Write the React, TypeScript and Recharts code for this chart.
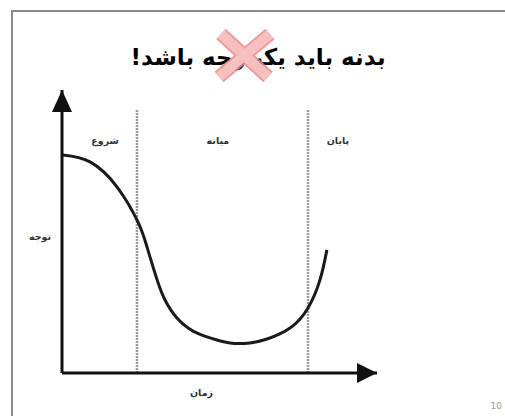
import { Line, LineChart, ReferenceDot, ReferenceLine, XAxis, YAxis } from "recharts";

const TITLE = "بدنه باید یکپارچه باشد!";
const X_LABEL = "زمان";
const Y_LABEL = "توجه";
const PAGE_NO = "10";

// attention curve (x and y both on a 0-100 scale)
const TIME = [0.3, 8.9, 17.5, 24.1, 27, 30.2, 32.7, 36.5, 41.6, 47, 53.3, 59.7, 65.1, 72.4, 78.1, 81.9, 84.1];
const ATTENTION = [77, 74.6, 65.7, 53.4, 44.5, 32.9, 25.8, 19.4, 14.8, 12.4, 10.6, 10.6, 12, 15.9, 23, 32.9, 43.5];

const PHASES = ["شروع", "میانه", "پایان"];
const PHASE_CENTERS = [13.7, 49.5, 87.6];
const PHASE_LABEL_Y = 82.3;
const BOUNDARIES = [23.8, 78.1];
const BOUNDARY_TOP = 93;

const FONT = "'DejaVu Sans', sans-serif";
const INK = "#111";

const data = TIME.map((t, i) => ({ t, a: ATTENTION[i] }));

function UpArrow(p: any) {
  const { cx, cy } = p;
  return <path d={`M${cx},${cy} L${cx - 10},${cy + 22} L${cx + 10},${cy + 22} Z`} fill={INK} />;
}

function RightArrow(p: any) {
  const { cx, cy } = p;
  return <path d={`M${cx},${cy} L${cx - 20},${cy - 10} L${cx - 20},${cy + 10} Z`} fill={INK} />;
}

function PhaseText(name: string) {
  return (p: any) => (
    <text x={p.cx} y={p.cy} textAnchor="middle" dominantBaseline="central" fontSize={9.5} fontWeight="bold" fill="#333" fontFamily={FONT}>
      {name}
    </text>
  );
}

export default function App() {
  return (
    <div style={{ position: "absolute", left: 0, top: 0, width: 505, height: 416, background: "#fff", overflow: "hidden" }}>
      <div
        style={{
          position: "absolute",
          left: 11,
          top: 10,
          width: 500,
          height: 420,
          borderTop: "2px solid #8a8a8a",
          borderLeft: "2px solid #8a8a8a",
        }}
      />
      <div
        dir="rtl"
        style={{
          position: "absolute",
          left: 0,
          top: 44,
          width: 516,
          textAlign: "center",
          fontFamily: FONT,
          fontWeight: "bold",
          fontSize: 23,
          color: "#000",
        }}
      >
        {TITLE}
      </div>
      <svg width={505} height={416} style={{ position: "absolute", left: 0, top: 0 }}>
        <g stroke="#e88c8c" strokeWidth={14} strokeLinecap="butt" opacity={0.85}>
          <line x1={221} y1={34} x2={268} y2={77} />
          <line x1={270} y1={34} x2={219} y2={77} />
        </g>
        <g stroke="#f7c2c2" strokeWidth={10} opacity={0.95}>
          <line x1={221} y1={34} x2={268} y2={77} />
          <line x1={270} y1={34} x2={219} y2={77} />
        </g>
      </svg>
      <div style={{ position: "absolute", left: 0, top: 0 }}>
        <LineChart width={505} height={416} data={data} margin={{ top: 90, right: 128, left: 0, bottom: 13 }}>
          <XAxis
            type="number"
            dataKey="t"
            domain={[0, 100]}
            allowDataOverflow
            height={30}
            tick={false}
            tickLine={false}
            axisLine={{ stroke: INK, strokeWidth: 3 }}
            label={{ value: X_LABEL, position: "insideTop", offset: 16, dx: -18, fontSize: 9.5, fontWeight: "bold", fill: "#333", fontFamily: FONT }}
          />
          <YAxis
            type="number"
            domain={[0, 100]}
            allowDataOverflow
            width={62}
            tick={false}
            tickLine={false}
            axisLine={{ stroke: INK, strokeWidth: 3 }}
            label={{ value: Y_LABEL, position: "center", dx: 9, dy: 5, fontSize: 9.5, fontWeight: "bold", fill: "#333", fontFamily: FONT }}
          />
          {BOUNDARIES.map((b) => (
            <ReferenceLine
              key={b}
              segment={[
                { x: b, y: 0 },
                { x: b, y: BOUNDARY_TOP },
              ]}
              stroke="#9a9a9a"
              strokeWidth={2.5}
              strokeDasharray="2 1"
            />
          ))}
          {PHASES.map((name, i) => (
            <ReferenceDot key={name} x={PHASE_CENTERS[i]} y={PHASE_LABEL_Y} r={0} ifOverflow="visible" shape={PhaseText(name)} />
          ))}
          <ReferenceDot x={0} y={100} ifOverflow="visible" shape={UpArrow} />
          <ReferenceDot x={100} y={0} ifOverflow="visible" shape={RightArrow} />
          <Line type="natural" dataKey="a" stroke="#1a1a1a" strokeWidth={3} dot={false} isAnimationActive={false} />
        </LineChart>
      </div>
      <div style={{ position: "absolute", right: 3, top: 401, fontFamily: FONT, fontSize: 9, color: "#999" }}>{PAGE_NO}</div>
    </div>
  );
}
